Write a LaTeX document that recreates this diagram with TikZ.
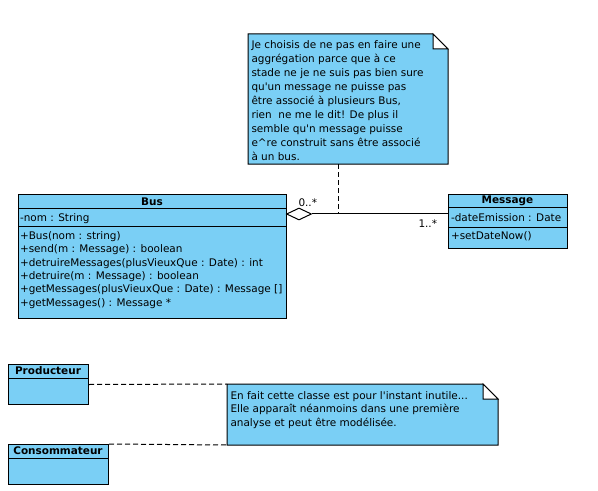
\documentclass[tikz,border=0pt]{standalone}
\usepackage{fontspec}
\usepackage{tikz}
\usetikzlibrary{shapes.geometric}
\newfontfamily\umlfont{DejaVu Sans}
\definecolor{umlbleu}{RGB}{122,207,245}

\tikzset{
  classe/.style={draw, fill=umlbleu, anchor=north west, inner sep=0pt},
  titre/.style={font=\umlfont\bfseries\fontsize{10.5}{12}\selectfont, inner sep=0pt},
  membre/.style={font=\umlfont\fontsize{10.5}{12}\selectfont, anchor=base west, inner sep=0pt},
  lien/.style={dash pattern=on 5bp off 3bp},
}

\begin{document}
\begin{tikzpicture}[x=1bp, y=-1bp, line width=1bp]
        \useasboundingbox (0,0) rectangle (598,491);

        % la note du haut
        \node[minimum width=199bp, minimum height=129bp, anchor=north west, inner sep=0pt] (remarque) at (248,34) {};
        \draw[fill=umlbleu] (remarque.north west) -- ([xshift=-15bp]remarque.north east)
        -- ([yshift=-15bp]remarque.north east) -- (remarque.south east) -- (remarque.south west) -- cycle;
        \draw[fill=white] ([xshift=-15bp]remarque.north east) -- ([xshift=-15bp, yshift=-15bp]remarque.north east)
        -- ([yshift=-15bp]remarque.north east) -- cycle;
        \foreach \ligne [count=\i] in {Je choisis de ne pas en faire une, aggrégation parce que à ce,
          stade ne je ne suis pas bien sure, qu'un message ne puisse pas, {être associé à plusieurs Bus,},
          rien\ \ ne me le dit! De plus il, semble qu'n message puisse,
          e\textasciicircum re construit sans être associé, {à un bus.}}
          \node[membre] at (251, 49 + 13.9*\i - 13.9) {\ligne};

        % Bus
        \node[classe, minimum width=268bp, minimum height=124bp] (bus) at (18,194) {};
        \draw (18,209) -- (286,209);
        \draw (18,226) -- (286,226);
        \node[titre] at (152,201.5) {Bus};
        \node[membre] at (19.5,221.5) {-nom : String};
        \foreach \ligne [count=\i] in {+Bus(nom : string), +send(m : Message) : boolean,
          +detruireMessages(plusVieuxQue : Date) : int, +detruire(m : Message) : boolean,
          {+getMessages(plusVieuxQue : Date) : Message []}, +getMessages() : Message *}
          \node[membre] at (19.5, 239.5 + 13.3*\i - 13.3) {\ligne};

        % Message
        \node[classe, minimum width=119bp, minimum height=54bp] (message) at (448,194) {};
        \draw (448,208) -- (567,208);
        \draw (448,227) -- (567,227);
        \node[titre] at (507.5,201) {Message};
        \node[membre] at (450.5,221.5) {-dateEmission : Date};
        \node[membre] at (450.5,239.5) {+setDateNow()};

        % agregation Bus -- Message
        \node[diamond, draw, fill=white, minimum width=25bp, minimum height=12bp, inner sep=0pt] (agreg) at (299,214) {};
        \draw (agreg.east) -- (agreg.east -| message.west);
        \node[membre] at (298,207) {0..*};
        \node[membre] at (418,228) {1..*};
        \coordinate (ancre) at (338,214);
        \draw[lien] (remarque.south -| ancre) -- (ancre);

        % Producteur et Consommateur
        \node[classe, minimum width=80bp, minimum height=40bp] (producteur) at (8,364) {};
        \draw (8,378) -- (88,378);
        \node[titre] at (48,371) {Producteur};
        \node[classe, minimum width=100bp, minimum height=40bp] (consommateur) at (8,444) {};
        \draw (8,458) -- (108,458);
        \node[titre] at (58,451) {Consommateur};

        % la note du bas
        \node[minimum width=270bp, minimum height=60bp, anchor=north west, inner sep=0pt] (inutile) at (227,384) {};
        \draw[fill=umlbleu] (inutile.north west) -- ([xshift=-15bp]inutile.north east)
        -- ([yshift=-15bp]inutile.north east) -- (inutile.south east) -- (inutile.south west) -- cycle;
        \draw[fill=white] ([xshift=-15bp]inutile.north east) -- ([xshift=-15bp, yshift=-15bp]inutile.north east)
        -- ([yshift=-15bp]inutile.north east) -- cycle;
        \foreach \ligne [count=\i] in {En fait cette classe est pour l'instant inutile{...},
          Elle apparaît néanmoins dans une première, analyse et peut être modélisée{.}}
          \node[membre] at (230, 399 + 13.5*\i - 13.5) {\ligne};
        \draw[lien] (producteur.east) -- (inutile.north west);
        \draw[lien] (consommateur.north east) -- (inutile.south west);
\end{tikzpicture}
\end{document}
